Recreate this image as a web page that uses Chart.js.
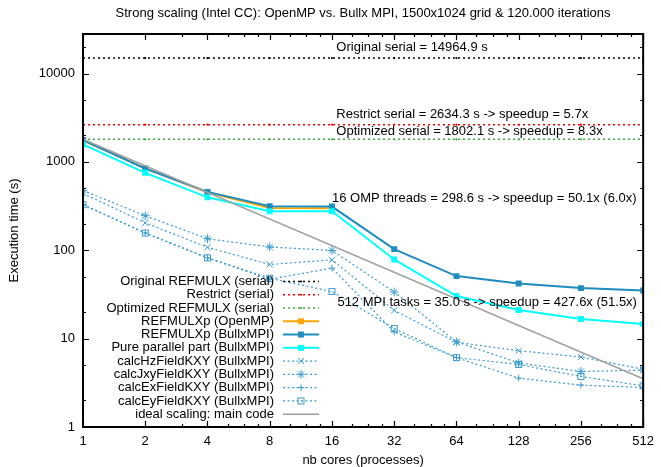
<!DOCTYPE html>
<html lang="en">
<head>
<meta charset="UTF-8">
<script src="https://cdn.jsdelivr.net/npm/chart.js"></script>
<title>Strong scaling</title>
<style>
  html, body { margin: 0; padding: 0; background: #fff; }
</style>
</head>
<body>
<canvas id="myChart" width="661" height="467"></canvas>
<script>
// ---- data ----
const cores = [1, 2, 4, 8, 16, 32, 64, 128, 256, 512];
const ompCores = [1, 2, 4, 8, 16];
const originalSerial = 14964.9;
const restrictSerial = 2634.3;
const optimizedSerial = 1802.1;
const refmulxOpenMP = [1750, 845, 452, 301, 298.6];
const refmulxBullx = [1765, 842, 458, 314, 312, 103, 51, 42, 37.3, 35.0];
const pureParallel = [1575, 752, 397, 276, 276, 78.7, 30.3, 21.1, 16.7, 14.6];
const calcHz = [440, 204, 108, 69, 78, 20.9, 9.1, 7.3, 6.2, 4.5];
const calcJxy = [475, 246, 135, 109, 99.5, 33.7, 9.2, 5.3, 4.25, 4.4];
const calcEx = [328, 157, 82, 47, 62.8, 11.9, 6.1, 3.57, 2.98, 2.8];
const calcEy = [328, 157, 82, 48.3, 34.1, 13.0, 6.1, 5.1, 3.73, 2.92];
const idealCores = [1, 512];
const idealTime = [1802.1, 3.52];
const yTicks = [1, 10, 100, 1000, 10000];

const notes = [
  { text: 'Original serial = 14964.9 s', x: 16.8, y: 19700 },
  { text: 'Restrict serial = 2634.3 s -> speedup = 5.7x', x: 16.8, y: 3450 },
  { text: 'Optimized serial = 1802.1 s -> speedup = 8.3x', x: 16.8, y: 2230 },
  { text: '16 OMP threads = 298.6 s -> speedup = 50.1x (6.0x)', x: 16, y: 391 },
  { text: '512 MPI tasks = 35.0 s -> speedup = 427.6x (51.5x)', x: 17, y: 25.6 }
];

const FONT = '"Liberation Sans", Arial, sans-serif';
const FS = 13;
const calcColor = '#3a9bd0';

// square with a dot, like gnuplot point type 'boxed dot'
const boxDot = document.createElement('canvas');
boxDot.width = 9; boxDot.height = 9;
(function () {
  const b = boxDot.getContext('2d');
  b.strokeStyle = calcColor;
  b.lineWidth = 1;
  b.strokeRect(1.5, 1.5, 6, 6);
  b.fillStyle = calcColor;
  b.fillRect(4, 4, 1, 1);
})();

function pts(xs, ys) {
  return xs.map((x, i) => ({ x: x, y: ys[i] }));
}
function flat(v) {
  return cores.map(x => ({ x: x, y: v }));
}

const serialStyle = c => ({
  borderColor: c, backgroundColor: c, borderWidth: 1.6, borderDash: [2, 3],
  pointStyle: 'circle', pointRadius: 1.1, pointBorderWidth: 0
});
const mainStyle = c => ({
  borderColor: c, backgroundColor: c, borderWidth: 2,
  pointStyle: 'rect', pointRadius: 4.2, pointBorderWidth: 0
});
const calcStyle = (ps, r) => ({
  borderColor: calcColor, backgroundColor: calcColor, borderWidth: 1.2, borderDash: [2, 2.5],
  pointStyle: ps, pointRadius: r, pointBorderWidth: 1, pointBorderColor: calcColor
});

const datasets = [
  Object.assign({ label: 'Original REFMULX (serial)', data: flat(originalSerial) }, serialStyle('#000000')),
  Object.assign({ label: 'Restrict (serial)', data: flat(restrictSerial) }, serialStyle('#ff0000')),
  Object.assign({ label: 'Optimized REFMULX (serial)', data: flat(optimizedSerial) }, serialStyle('#3cae3c')),
  Object.assign({ label: 'REFMULXp (OpenMP)', data: pts(ompCores, refmulxOpenMP) }, mainStyle('#ffa500')),
  Object.assign({ label: 'REFMULXp (BullxMPI)', data: pts(cores, refmulxBullx) }, mainStyle('#1f8cc0')),
  Object.assign({ label: 'Pure parallel part (BullxMPI)', data: pts(cores, pureParallel) }, mainStyle('#00ffff')),
  Object.assign({ label: 'calcHzFieldKXY (BullxMPI)', data: pts(cores, calcHz) }, calcStyle('crossRot', 4.4)),
  Object.assign({ label: 'calcJxyFieldKXY (BullxMPI)', data: pts(cores, calcJxy) }, calcStyle('star', 4.4)),
  Object.assign({ label: 'calcExFieldKXY (BullxMPI)', data: pts(cores, calcEx) }, calcStyle('cross', 3.3)),
  Object.assign({ label: 'calcEyFieldKXY (BullxMPI)', data: pts(cores, calcEy) }, calcStyle(boxDot, 4)),
  { label: 'ideal scaling: main code', data: pts(idealCores, idealTime),
    borderColor: '#a0a0a0', backgroundColor: '#a0a0a0', borderWidth: 1.5, pointRadius: 0 }
];
// later datasets on top, like gnuplot
datasets.forEach((d, i) => { d.order = -i; d.tension = 0; d.fill = false; });

function drawMarker(ctx, ds, x, y) {
  const r = ds.pointRadius || 0;
  if (!r) return;
  const ps = ds.pointStyle;
  ctx.save();
  ctx.strokeStyle = ds.borderColor;
  ctx.fillStyle = ds.backgroundColor;
  ctx.lineWidth = 1;
  ctx.setLineDash([]);
  ctx.beginPath();
  if (ps instanceof HTMLCanvasElement) {
    ctx.drawImage(ps, x - ps.width / 2, y - ps.height / 2);
  } else if (ps === 'rect') {
    const s = Math.SQRT1_2 * r;
    ctx.fillRect(x - s, y - s, 2 * s, 2 * s);
  } else if (ps === 'circle') {
    ctx.arc(x, y, r, 0, Math.PI * 2); ctx.fill();
  } else {
    const d = ps === 'cross' ? r : r * Math.SQRT1_2;
    if (ps === 'cross' || ps === 'star') {
      const c = ps === 'cross' ? d : r;
      ctx.moveTo(x - c, y); ctx.lineTo(x + c, y);
      ctx.moveTo(x, y - c); ctx.lineTo(x, y + c);
    }
    if (ps === 'crossRot' || ps === 'star') {
      ctx.moveTo(x - d, y - d); ctx.lineTo(x + d, y + d);
      ctx.moveTo(x - d, y + d); ctx.lineTo(x + d, y - d);
    }
    ctx.stroke();
  }
  ctx.restore();
}

const gnuplotLook = {
  id: 'gnuplotLook',
  afterDatasetsDraw(chart) {
    const ctx = chart.ctx;
    const a = chart.chartArea;
    const xs = chart.scales.x, ys = chart.scales.y;
    ctx.save();

    // tick marks, inward and mirrored
    ctx.strokeStyle = '#000';
    ctx.lineWidth = 1.2;
    ctx.beginPath();
    yTicks.forEach(v => {
      [1, 2, 5].forEach(m => {
        const val = v * m;
        if (val > ys.max) return;
        const py = Math.round(ys.getPixelForValue(val)) + 0.5;
        const len = m === 1 ? 6 : 3;
        ctx.moveTo(a.left, py); ctx.lineTo(a.left + len, py);
        ctx.moveTo(a.right, py); ctx.lineTo(a.right - len, py);
      });
    });
    cores.forEach((v, k) => {
      const mins = k === 0 ? [] : (k === 1 ? [1.5] : [1.25, 1.5, 1.75]);
      [[v, 6]].concat(mins.map(m => [v * m, 3])).forEach(([val, len]) => {
        if (val > xs.max) return;
        const px = Math.round(xs.getPixelForValue(val)) + 0.5;
        ctx.moveTo(px, a.bottom); ctx.lineTo(px, a.bottom - len);
        ctx.moveTo(px, a.top); ctx.lineTo(px, a.top + len);
      });
    });
    ctx.stroke();

    // frame
    ctx.lineWidth = 2;
    ctx.strokeRect(a.left, a.top, a.right - a.left, a.bottom - a.top);

    // annotations
    ctx.fillStyle = '#000';
    ctx.font = FS + 'px ' + FONT;
    ctx.textAlign = 'left';
    ctx.textBaseline = 'middle';
    notes.forEach(n => {
      ctx.fillText(n.text, xs.getPixelForValue(n.x), ys.getPixelForValue(n.y));
    });

    // legend: right-aligned text, sample to the right
    const textRight = 274, sx0 = 283, sx1 = 319, y0 = 281.5, dy = 13.27;
    chart.data.datasets.forEach((ds, i) => {
      const y = y0 + i * dy;
      ctx.fillStyle = '#000';
      ctx.textAlign = 'right';
      ctx.fillText(ds.label, textRight, y);
      ctx.save();
      ctx.strokeStyle = ds.borderColor;
      ctx.lineWidth = ds.borderWidth;
      ctx.setLineDash(ds.borderDash || []);
      ctx.beginPath();
      ctx.moveTo(sx0, y); ctx.lineTo(sx1, y);
      ctx.stroke();
      ctx.restore();
      drawMarker(ctx, ds, (sx0 + sx1) / 2, y);
    });

    // titles
    ctx.fillStyle = '#000';
    ctx.textAlign = 'center';
    ctx.fillText('Strong scaling (Intel CC): OpenMP vs. Bullx MPI, 1500x1024 grid & 120.000 iterations',
      (a.left + a.right) / 2, 13);
    ctx.fillText('nb cores (processes)', (a.left + a.right) / 2, 460);
    ctx.translate(14, (a.top + a.bottom) / 2);
    ctx.rotate(-Math.PI / 2);
    ctx.fillText('Execution time (s)', 0, 0);
    ctx.restore();
  }
};

const ctx = document.getElementById('myChart').getContext('2d');
const myChart = new Chart(ctx, {
  type: 'line',
  data: { datasets: datasets },
  plugins: [gnuplotLook],
  options: {
    responsive: false,
    animation: false,
    devicePixelRatio: 1,
    layout: { padding: { top: 34, right: 13, left: 0, bottom: 0 } },
    plugins: { legend: { display: false }, title: { display: false }, tooltip: { enabled: false } },
    scales: {
      x: {
        type: 'logarithmic', min: 1, max: 512,
        grid: { display: false, drawTicks: false },
        border: { display: false },
        afterBuildTicks: s => { s.ticks = cores.map(v => ({ value: v })); },
        afterFit: s => { s.height = 40; },
        ticks: {
          autoSkip: false, maxRotation: 0, padding: 7, color: '#000',
          font: { family: FONT, size: FS },
          callback: v => String(v)
        }
      },
      y: {
        type: 'logarithmic', min: 1, max: 28000,
        grid: { display: false, drawTicks: false },
        border: { display: false },
        afterBuildTicks: s => { s.ticks = yTicks.map(v => ({ value: v })); },
        afterFit: s => { s.width = 83; },
        ticks: {
          autoSkip: false, padding: 8, color: '#000',
          font: { family: FONT, size: FS },
          callback: v => String(v)
        }
      }
    }
  }
});
</script>
</body>
</html>
